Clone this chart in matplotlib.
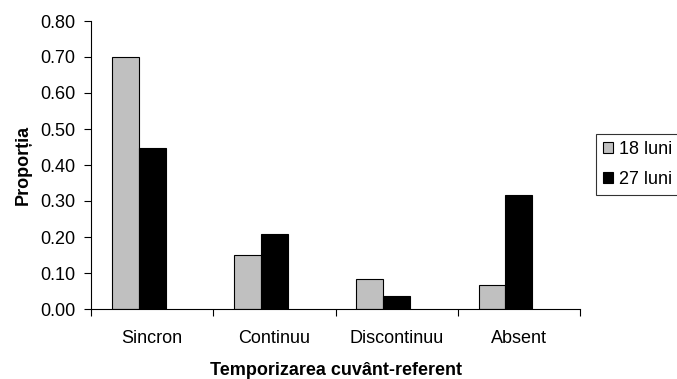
import matplotlib.pyplot as plt
import numpy as np
from matplotlib.ticker import FixedLocator

categories = ["Sincron", "Continuu", "Discontinuu", "Absent"]
luni_18 = [0.70, 0.150, 0.084, 0.067]
luni_27 = [0.446, 0.207, 0.036, 0.318]
series_labels = ["18 luni", "27 luni"]

plt.rcParams["font.family"] = ["Liberation Sans", "DejaVu Sans"]

fig = plt.figure(figsize=(6.77, 3.79), dpi=100)
ax = fig.add_axes([91 / 677, 1 - 309 / 379, (580 - 91) / 677, (309 - 21) / 379])

x = np.arange(len(categories))
w = 0.22
# bars sit a bit left of the category centre, like in the original
ax.bar(x - w, luni_18, w, align="center", color="#C0C0C0", edgecolor="black", linewidth=0.8, label=series_labels[0])
ax.bar(x, luni_27, w, align="center", color="black", edgecolor="black", linewidth=0.8, label=series_labels[1])

ax.set_xlim(-0.5, len(categories) - 0.5)
ax.set_ylim(0, 0.8)
yt = np.arange(0, 0.81, 0.1)
ax.set_yticks(yt)
ax.set_yticklabels([f"{v:.2f}" for v in yt], fontsize=13)

ax.set_xticks(x)
ax.set_xticklabels(categories, fontsize=13)
ax.xaxis.set_minor_locator(FixedLocator(np.arange(-0.5, len(categories), 1.0)))
ax.tick_params(axis="x", which="major", length=0, pad=15)
ax.tick_params(axis="x", which="minor", length=5, width=0.8, direction="out")
ax.tick_params(axis="y", length=5, width=0.8, direction="out", pad=6)

for s in ["top", "right"]:
    ax.spines[s].set_visible(False)
for s in ["left", "bottom"]:
    ax.spines[s].set_linewidth(0.8)

ax.set_ylabel("Proporția", fontsize=13, fontweight="bold", labelpad=6)
ax.set_xlabel("Temporizarea cuvânt-referent", fontsize=13, fontweight="bold", labelpad=11)

leg = fig.legend(loc="upper left", bbox_to_anchor=(596 / 677, 1 - 134 / 379), fontsize=13,
                 frameon=True, fancybox=False, handlelength=0.55, handleheight=0.55,
                 handletextpad=0.35, borderpad=0.4, labelspacing=0.7, borderaxespad=0)
leg.get_frame().set_edgecolor("black")
leg.get_frame().set_linewidth(0.8)

fig.savefig("out.png", dpi=100)
